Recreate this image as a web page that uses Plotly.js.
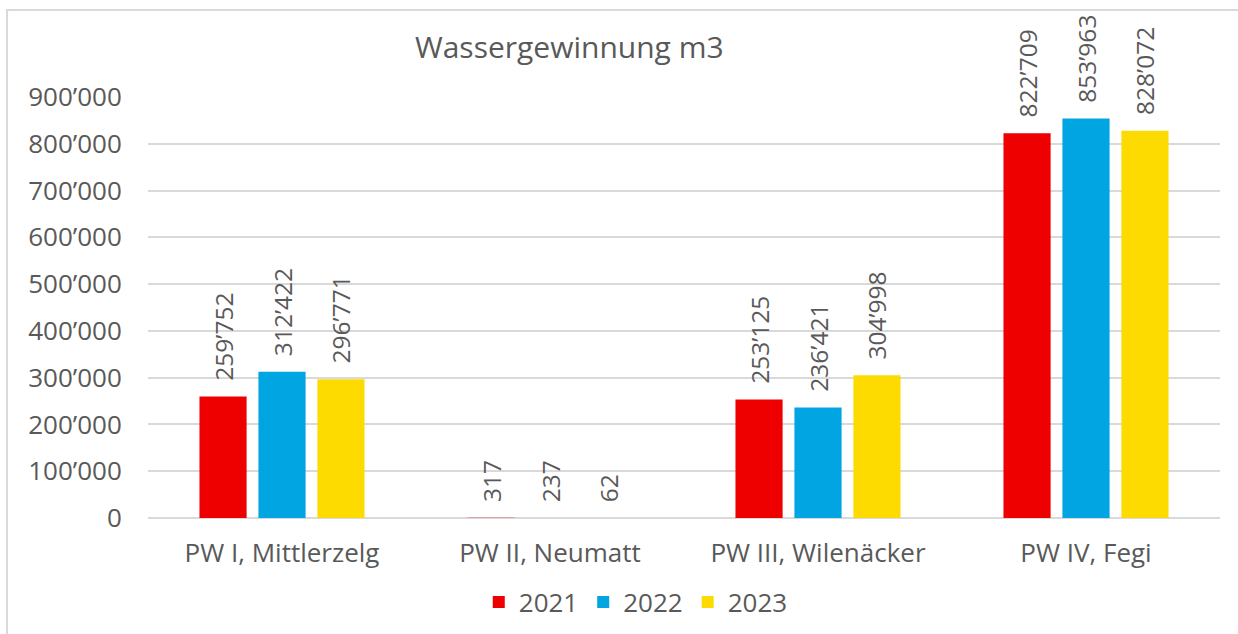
<!DOCTYPE html>
<html>
<head>
<meta charset="utf-8">
<script src="https://cdn.plot.ly/plotly-3.0.1.min.js"></script>
<style>html,body{margin:0;padding:0;background:#fff}</style>
</head>
<body>
<div id="chart" style="width:1238px;height:634px"></div>
<script>
const categories = ["PW I, Mittlerzelg", "PW II, Neumatt", "PW III, Wilenäcker", "PW IV, Fegi"];
const years = ["2021", "2022", "2023"];
const v2021 = [259752, 317, 253125, 822709];
const v2022 = [312422, 237, 236421, 853963];
const v2023 = [296771, 62, 304998, 828072];
const colors = ["#EE0000", "#00A5E2", "#FDDB00"];
const series = [v2021, v2022, v2023];

const FONT = "Open Sans, sans-serif";
const GREY = "#595959";

const traces = series.map((vals, i) => ({
  type: "bar",
  name: years[i],
  x: categories,
  y: vals,
  marker: {color: colors[i]},
  texttemplate: "\u00a0\u00a0%{y:,d}",
  textposition: "outside",
  textangle: -90,
  constraintext: "none",
  cliponaxis: false,
  textfont: {family: FONT, size: 24.5, color: GREY},
  hoverinfo: "x+y"
}));

const layout = {
  width: 1238, height: 634,
  margin: {l: 148, r: 18, t: 97, b: 116, autoexpand: false},
  paper_bgcolor: "#fff", plot_bgcolor: "#fff",
  separators: ".’",
  font: {family: FONT, color: GREY, size: 26},
  uniformtext: {mode: "show", minsize: 24.5},
  title: {text: "Wassergewinnung m3", x: 0.393, xref: "paper", xanchor: "center", y: 0.925, yanchor: "middle",
          font: {family: FONT, size: 30, color: GREY}},
  barmode: "group",
  bargap: 0.34,
  bargroupgap: 0.2,
  xaxis: {showline: false, ticks: "outside", ticklen: 12, tickcolor: "rgba(0,0,0,0)",
          tickfont: {family: FONT, size: 26, color: GREY}},
  yaxis: {range: [0, 900000], dtick: 100000, tickformat: ",d", gridcolor: "#D9D9D9", gridwidth: 2,
          zeroline: true, zerolinecolor: "#D9D9D9", zerolinewidth: 2, ticks: "outside", ticklen: 20, tickcolor: "rgba(0,0,0,0)",
          tickfont: {family: FONT, size: 26, color: GREY}},
  legend: {orientation: "h", x: 0.455, xanchor: "center", y: -0.2, yanchor: "middle",
           font: {family: FONT, size: 26, color: GREY}, itemwidth: 30, traceorder: "normal"},
  shapes: [{type: "rect", xref: "paper", yref: "paper", x0: -0.1315, x1: 1.2, y0: -0.5, y1: 1.2067,
            line: {color: "#D9D9D9", width: 2}, fillcolor: "rgba(0,0,0,0)", layer: "below"}]
};

Plotly.newPlot("chart", traces, layout, {displayModeBar: false, staticPlot: true});
</script>
</body>
</html>
